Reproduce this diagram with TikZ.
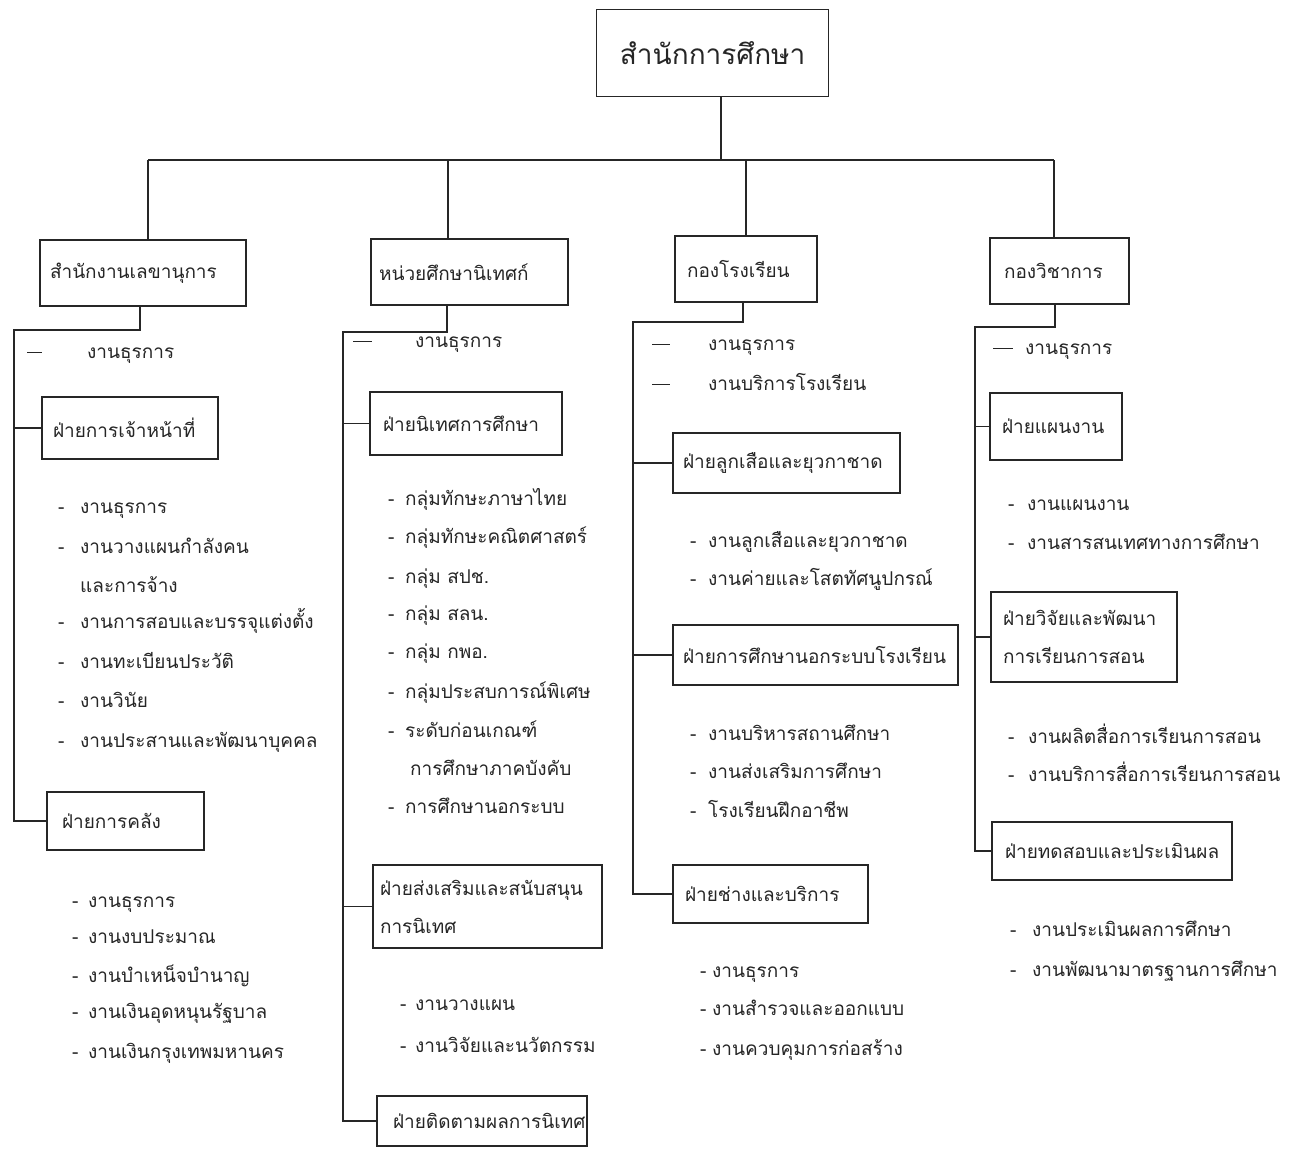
\documentclass[tikz,border=0pt]{standalone}
\usepackage{fontspec}
\setmainfont[Script=Thai]{Loma}
\newcommand{\isz}{\fontsize{19}{38}\selectfont}
\newcommand{\mybx}[7]{%
  \pgfmathsetmacro\bxw{#4-#2-2*#6}%
  \pgfmathsetmacro\bxh{#5-#3}%
  \node[box, inner xsep=#6pt, text width=\bxw pt, minimum height=\bxh pt] (#1) at (#2,#3) {#7};}
\newcommand{\myitm}[5]{\node[item] (#1) at (#2,#4) {\makebox[\dimexpr #3pt-#2pt\relax][l]{-}#5};}
\newcommand{\mydit}[6]{\node[item] (#1) at (#2,#5) {\rule[0.25em]{\dimexpr #3pt-#2pt\relax}{1.3pt}\hspace*{\dimexpr #4pt-#3pt\relax}#6};}
\begin{document}
\begin{tikzpicture}[x=1pt,y=-1pt,
  box/.style={draw=black!85, line width=1.3pt, anchor=north west, inner ysep=2pt, align=left, outer sep=0pt, font=\isz, text=black!85},
  item/.style={anchor=base west, inner sep=0pt, yshift=-5pt, font=\isz, text=black!85},
  conn/.style={draw=black!85, line width=1.2pt}]
\useasboundingbox (0,0) rectangle (1300,1149);
\fill[white] (0,0) rectangle (1300,1149);

% top
\node[draw=black!85, line width=1.3pt, anchor=north west, minimum width=232pt, minimum height=87pt, inner sep=0pt, font=\fontsize{28}{32}\selectfont, text=black!85] (top) at (596,9) {สำนักการศึกษา};

% level 2
\mybx{b1}{40}{240}{246}{306}{10}{สำนักงานเลขานุการ}
\mybx{b2}{371}{239}{568}{305}{8}{หน่วยศึกษานิเทศก์}
\mybx{b3}{675}{236}{817}{302}{12}{กองโรงเรียน}
\mybx{b4}{990}{238}{1129}{304}{14}{กองวิชาการ}

% bus
\coordinate (tj) at (721,160);
\coordinate (d1) at (148,160);
\coordinate (d2) at (448,160);
\coordinate (d3) at (746,160);
\coordinate (d4) at (1054,160);
\draw[conn] (tj |- top.south) -- (tj);
\draw[conn] (d1) -- (d4);
\draw[conn] (d1) -- (d1 |- b1.north);
\draw[conn] (d2) -- (d2 |- b2.north);
\draw[conn] (d3) -- (d3 |- b3.north);
\draw[conn] (d4) -- (d4 |- b4.north);

% ---------- column 1
\mydit{a0}{27}{42}{87}{353}{งานธุรการ}
\mybx{f11}{42}{397}{218}{459}{11}{ฝ่ายการเจ้าหน้าที่}
\myitm{a1}{58}{80}{508}{งานธุรการ}
\myitm{a2}{58}{80}{548}{งานวางแผนกำลังคน}
\node[item] (a2b) at (80,587) {และการจ้าง};
\myitm{a3}{58}{80}{623}{งานการสอบและบรรจุแต่งตั้ง}
\myitm{a4}{58}{80}{663}{งานทะเบียนประวัติ}
\myitm{a5}{58}{80}{702}{งานวินัย}
\myitm{a6}{58}{80}{742}{งานประสานและพัฒนาบุคคล}
\mybx{f12}{47}{792}{204}{850}{15}{ฝ่ายการคลัง}
\myitm{a7}{72}{88}{902}{งานธุรการ}
\myitm{a8}{72}{88}{938}{งานงบประมาณ}
\myitm{a9}{72}{88}{977}{งานบำเหน็จบำนาญ}
\myitm{a10}{72}{88}{1013}{งานเงินอุดหนุนรัฐบาล}
\myitm{a11}{72}{88}{1053}{งานเงินกรุงเทพมหานคร}
\coordinate (c1) at (140,330);
\coordinate (t1) at (14,330);
\draw[conn] (c1 |- b1.south) -- (c1) -- (t1) |- (f12.west);
\draw[conn] (t1 |- f11.west) -- (f11.west);

% ---------- column 2
\mydit{b0}{353}{372}{415}{342}{งานธุรการ}
\mybx{f21}{370}{392}{562}{455}{13}{ฝ่ายนิเทศการศึกษา}
\myitm{e1}{388}{405}{500}{กลุ่มทักษะภาษาไทย}
\myitm{e2}{388}{405}{538}{กลุ่มทักษะคณิตศาสตร์}
\myitm{e3}{388}{405}{578}{กลุ่ม สปช.}
\myitm{e4}{388}{405}{615}{กลุ่ม สลน.}
\myitm{e5}{388}{405}{653}{กลุ่ม กพอ.}
\myitm{e6}{388}{405}{693}{กลุ่มประสบการณ์พิเศษ}
\myitm{e7}{388}{405}{732}{ระดับก่อนเกณฑ์}
\node[item] (e7b) at (410,770) {การศึกษาภาคบังคับ};
\myitm{e8}{388}{405}{808}{การศึกษานอกระบบ}
\mybx{f22}{373}{865}{602}{948}{7}{ฝ่ายส่งเสริมและสนับสนุน\\การนิเทศ}
\myitm{e9}{400}{415}{1005}{งานวางแผน}
\myitm{e10}{400}{415}{1047}{งานวิจัยและนวัตกรรม}
\mybx{f23}{377}{1096}{587}{1146}{16}{ฝ่ายติดตามผลการนิเทศ}
\coordinate (c2) at (447,332);
\coordinate (t2) at (343,332);
\draw[conn] (c2 |- b2.south) -- (c2) -- (t2) |- (f23.west);
\draw[conn] (t2 |- f21.west) -- (f21.west);
\draw[conn] (t2 |- f22.west) -- (f22.west);

% ---------- column 3
\mydit{g0}{652}{670}{708}{345}{งานธุรการ}
\mydit{g1}{652}{670}{708}{385}{งานบริการโรงเรียน}
\mybx{f31}{673}{433}{900}{493}{10}{ฝ่ายลูกเสือและยุวกาชาด}
\myitm{g2}{690}{708}{542}{งานลูกเสือและยุวกาชาด}
\myitm{g3}{690}{708}{580}{งานค่ายและโสตทัศนูปกรณ์}
\mybx{f32}{673}{625}{958}{685}{10}{ฝ่ายการศึกษานอกระบบโรงเรียน}
\myitm{g4}{690}{708}{735}{งานบริหารสถานศึกษา}
\myitm{g5}{690}{708}{773}{งานส่งเสริมการศึกษา}
\myitm{g6}{690}{708}{812}{โรงเรียนฝึกอาชีพ}
\mybx{f33}{673}{865}{868}{923}{12}{ฝ่ายช่างและบริการ}
\myitm{g7}{700}{712}{972}{งานธุรการ}
\myitm{g8}{700}{712}{1010}{งานสำรวจและออกแบบ}
\myitm{g9}{700}{712}{1050}{งานควบคุมการก่อสร้าง}
\coordinate (c3) at (743,322);
\coordinate (t3) at (633,322);
\draw[conn] (c3 |- b3.south) -- (c3) -- (t3) |- (f33.west);
\draw[conn] (t3 |- f31.west) -- (f31.west);
\draw[conn] (t3 |- f32.west) -- (f32.west);

% ---------- column 4
\mydit{h0}{993}{1013}{1025}{349}{งานธุรการ}
\mybx{f41}{990}{393}{1122}{460}{12}{ฝ่ายแผนงาน}
\myitm{h1}{1008}{1027}{505}{งานแผนงาน}
\myitm{h2}{1008}{1027}{544}{งานสารสนเทศทางการศึกษา}
\mybx{f42}{991}{592}{1177}{682}{12}{ฝ่ายวิจัยและพัฒนา\\การเรียนการสอน}
\myitm{h3}{1008}{1028}{738}{งานผลิตสื่อการเรียนการสอน}
\myitm{h4}{1008}{1028}{776}{งานบริการสื่อการเรียนการสอน}
\mybx{f43}{992}{822}{1232}{880}{13}{ฝ่ายทดสอบและประเมินผล}
\myitm{h5}{1010}{1032}{931}{งานประเมินผลการศึกษา}
\myitm{h6}{1010}{1032}{971}{งานพัฒนามาตรฐานการศึกษา}
\coordinate (c4) at (1055,327);
\coordinate (t4) at (975,327);
\draw[conn] (c4 |- b4.south) -- (c4) -- (t4) |- (f43.west);
\draw[conn] (t4 |- f41.west) -- (f41.west);
\draw[conn] (t4 |- f42.west) -- (f42.west);
\end{tikzpicture}
\end{document}
